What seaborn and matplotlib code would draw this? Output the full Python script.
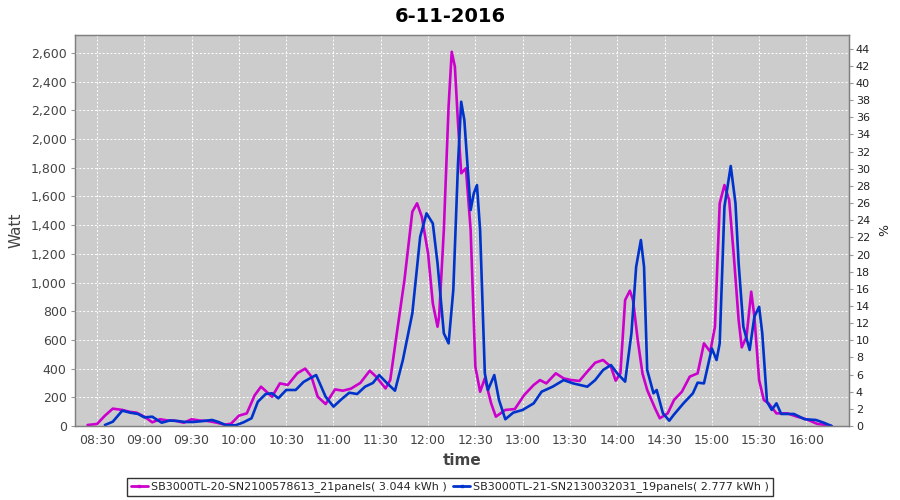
import matplotlib
matplotlib.use("Agg")
import matplotlib.pyplot as plt
import matplotlib.dates as mdates
from matplotlib.ticker import FuncFormatter, MultipleLocator
import seaborn as sns
import pandas as pd

title = "6-11-2016"
label_a = "SB3000TL-20-SN2100578613_21panels( 3.044 kWh )"
label_b = "SB3000TL-21-SN2130032031_19panels( 2.777 kWh )"

times_a = [
    "08:24", "08:30", "08:35", "08:40", "08:46", "08:51", "08:55", "09:00", "09:05", "09:10",
    "09:15", "09:19", "09:25", "09:30", "09:35", "09:40", "09:46", "09:51", "09:55", "10:00",
    "10:05", "10:10", "10:14", "10:21", "10:26", "10:31", "10:37", "10:42", "10:46", "10:50",
    "10:55", "11:01", "11:06", "11:11", "11:17", "11:23", "11:27", "11:33", "11:36", "11:40",
    "11:45", "11:50", "11:53", "11:56", "12:00", "12:03", "12:06", "12:07", "12:10", "12:13",
    "12:15", "12:17", "12:19", "12:21", "12:24", "12:27", "12:30", "12:33", "12:36", "12:40",
    "12:43", "12:49", "12:55", "13:01", "13:07", "13:11", "13:15", "13:21", "13:26", "13:31",
    "13:36", "13:41", "13:46", "13:51", "13:56", "13:59", "14:02", "14:05", "14:08", "14:10",
    "14:13", "14:16", "14:19", "14:24", "14:27", "14:32", "14:36", "14:41", "14:46", "14:51",
    "14:55", "14:59", "15:02", "15:05", "15:08", "15:11", "15:14", "15:17", "15:19", "15:22",
    "15:25", "15:27", "15:30", "15:33", "15:36", "15:41", "15:48", "15:54", "16:00", "16:07",
    "16:13", "16:16",
]
watt_a = [
    7, 14, 72, 121, 112, 98, 93, 65, 26, 47,
    38, 38, 23, 47, 38, 35, 23, 9, 16, 72,
    88, 214, 274, 204, 297, 286, 367, 400, 344, 204,
    153, 255, 246, 260, 300, 385, 344, 262, 320, 634,
    1017, 1493, 1552, 1459, 1203, 855, 692, 762, 1366, 2225,
    2608, 2504, 2109, 1761, 1796, 1366, 413, 239, 332, 158,
    65, 112, 118, 216, 286, 320, 297, 367, 332, 320,
    314, 379, 441, 460, 413, 316, 367, 878, 943, 878,
    599, 367, 251, 123, 54, 88, 181, 239, 344, 367,
    576, 518, 692, 1552, 1679, 1575, 1180, 739, 548, 622,
    936, 762, 320, 181, 158, 88, 88, 65, 47, 14,
    7, 0,
]

times_b = [
    "08:35", "08:40", "08:46", "08:51", "08:56", "09:00", "09:05", "09:11", "09:16", "09:21",
    "09:26", "09:31", "09:36", "09:43", "09:47", "09:52", "09:58", "10:03", "10:08", "10:12",
    "10:17", "10:21", "10:25", "10:30", "10:36", "10:41", "10:45", "10:49", "10:55", "11:00",
    "11:05", "11:10", "11:15", "11:20", "11:25", "11:29", "11:33", "11:39", "11:44", "11:50",
    "11:55", "11:59", "12:03", "12:06", "12:10", "12:13", "12:16", "12:19", "12:21", "12:23",
    "12:27", "12:29", "12:31", "12:33", "12:36", "12:38", "12:42", "12:45", "12:49", "12:54",
    "13:00", "13:07", "13:12", "13:19", "13:26", "13:32", "13:41", "13:46", "13:51", "13:56",
    "14:00", "14:05", "14:09", "14:12", "14:15", "14:17", "14:19", "14:23", "14:25", "14:29",
    "14:33", "14:36", "14:42", "14:48", "14:51", "14:55", "15:00", "15:03", "15:05", "15:08",
    "15:12", "15:15", "15:17", "15:20", "15:24", "15:27", "15:30", "15:32", "15:35", "15:38",
    "15:41", "15:44", "15:52", "15:59", "16:06", "16:11", "16:16",
]
watt_b = [
    7, 30, 107, 93, 84, 60, 65, 23, 38, 35,
    28, 28, 33, 42, 28, 5, 5, 26, 54, 169,
    223, 228, 193, 251, 251, 307, 332, 355, 204, 135,
    186, 232, 223, 274, 300, 355, 309, 246, 460, 785,
    1319, 1482, 1412, 1134, 646, 576, 948, 1831, 2260, 2132,
    1505, 1621, 1679, 1366, 367, 251, 355, 181, 47, 93,
    112, 158, 239, 274, 320, 297, 274, 320, 390, 425,
    367, 309, 646, 1110, 1296, 1110, 390, 228, 251, 88,
    37, 80, 158, 228, 302, 297, 541, 460, 576, 1528,
    1812, 1552, 1134, 692, 530, 762, 831, 646, 169, 112,
    158, 84, 84, 47, 42, 23, 0,
]

day = "2016-11-06 "
df = pd.concat([
    pd.DataFrame({"time": pd.to_datetime([day + t for t in times_a]), "watt": watt_a, "series": label_a}),
    pd.DataFrame({"time": pd.to_datetime([day + t for t in times_b]), "watt": watt_b, "series": label_b}),
])

sns.set_style("white")
plt.rcParams["font.family"] = ["DejaVu Sans"]

fig = plt.figure(figsize=(9, 5), dpi=100)
ax = fig.add_axes([0.0833, 0.148, 0.860, 0.782])
ax.set_facecolor("#CCCCCC")

sns.lineplot(
    data=df, x="time", y="watt", hue="series",
    palette={label_a: "#CC00CC", label_b: "#0033CC"},
    linewidth=1.9, ax=ax, legend=False, sort=False,
    solid_joinstyle="round", solid_capstyle="round",
)

ax.set_xlim(pd.Timestamp(day + "08:16"), pd.Timestamp(day + "16:27"))
ax.set_ylim(0, 2725)
ax.xaxis.set_major_locator(mdates.MinuteLocator(byminute=[0, 30]))
ax.xaxis.set_major_formatter(mdates.DateFormatter("%H:%M"))
ax.yaxis.set_major_locator(MultipleLocator(200))
ax.yaxis.set_major_formatter(FuncFormatter(lambda v, p: f"{int(v):,}"))
ax.grid(True, color="white", linestyle=(0, (2, 2)), linewidth=0.7)

for s in ax.spines.values():
    s.set_color("#808080")
    s.set_linewidth(1)
ax.tick_params(axis="both", labelsize=9, colors="#444444", length=3, direction="out", pad=3)
ax.tick_params(axis="both", color="#999999")
ax.set_xlabel("time", fontsize=11, fontweight="bold", color="#444444", labelpad=4)
ax.set_ylabel("Watt", fontsize=11, color="#444444", labelpad=5)
fig.suptitle(title, x=0.5, y=0.985, va="top", fontsize=14, fontweight="bold", color="black")

ax2 = ax.twinx()
ax2.set_ylim(0, 45.6)
ax2.yaxis.set_major_locator(MultipleLocator(2))
ax2.tick_params(axis="y", labelsize=8, colors="#222222", length=3, color="#999999", pad=2)
ax2.set_ylabel("%", fontsize=9, color="#222222", labelpad=6)
for s in ax2.spines.values():
    s.set_color("#808080")

handles = [
    plt.Line2D([], [], color="#CC00CC", linewidth=2, marker="s", markersize=2),
    plt.Line2D([], [], color="#0033CC", linewidth=2, marker="s", markersize=2),
]
fig.legend(
    handles, [label_a, label_b], loc="center", bbox_to_anchor=(0.5, 0.026),
    ncol=2, fontsize=8, frameon=True, fancybox=False, edgecolor="black",
    handlelength=1.5, handletextpad=0.3, columnspacing=0.6, borderpad=0.35,
)

fig.savefig("out.png", dpi=100)
